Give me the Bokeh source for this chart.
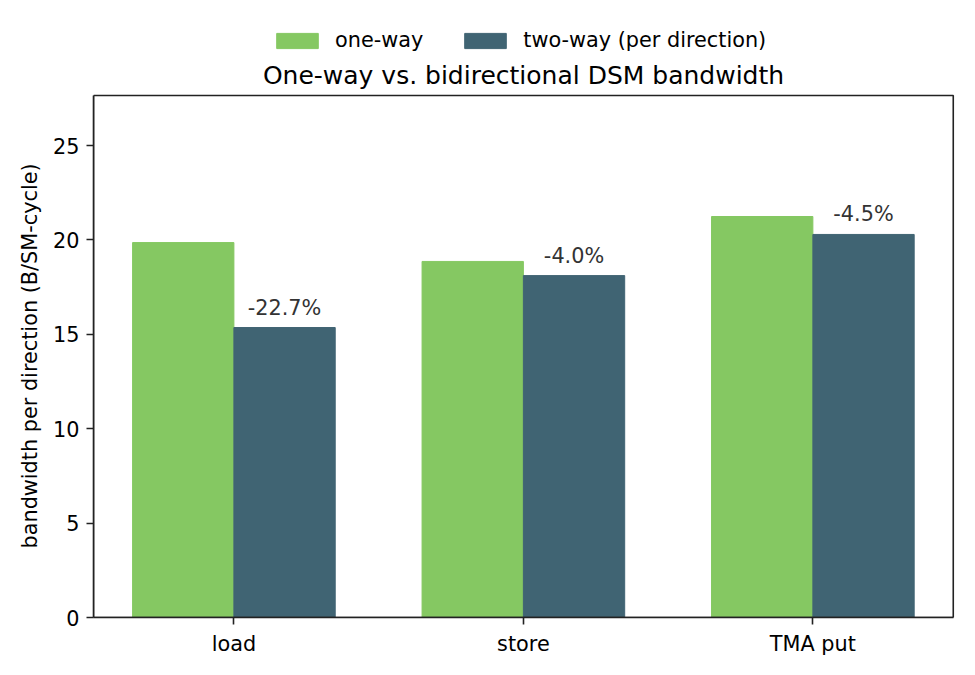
from bokeh.plotting import figure
from bokeh.models import (
    ColumnDataSource,
    Range1d,
    FixedTicker,
    Legend,
    LegendItem,
    Label,
    Title,
)
from bokeh.core.properties import value
from bokeh.embed import file_html
from bokeh.resources import INLINE

# Data
ops = ["load", "store", "TMA put"]
one_way = [19.86, 18.86, 21.24]
two_way = [15.36, 18.11, 20.29]
y_ticks = [0, 5, 10, 15, 20, 25]
y_top = 27.65

green = "#85c862"
slate = "#406473"
ink = "#222222"
font = "DejaVu Sans"
fs = "20.8px"

xs = list(range(len(ops)))
bar_w = 0.35
x_lo, x_hi = -0.485, 2.485
pct = ["%.1f%%" % ((b - a) / a * 100) for a, b in zip(one_way, two_way)]

src = ColumnDataSource(
    dict(
        x1=[x - bar_w / 2 for x in xs],
        x2=[x + bar_w / 2 for x in xs],
        one=one_way,
        two=two_way,
        pct=pct,
    )
)

# the frame runs up to the top of the page so the legend and title
# (which live inside it) are not clipped; the axes box is drawn by hand
frame_h = 617
box_h = 522
p = figure(
    width=975,
    height=675,
    x_range=Range1d(x_lo, 2.51),
    y_range=Range1d(0, y_top * frame_h / box_h),
    toolbar_location=None,
    output_backend="svg",
    min_border_left=93,
    min_border_right=15,
    min_border_bottom=58,
    min_border_top=0,
)
p.outline_line_color = None
p.xgrid.grid_line_color = None
p.ygrid.grid_line_color = None

r1 = p.vbar(x="x1", top="one", width=bar_w, source=src, color=green)
r2 = p.vbar(x="x2", top="two", width=bar_w, source=src, color=slate)

p.quad(
    left=[x_lo], right=[x_hi], bottom=[0], top=[y_top],
    fill_color=None, line_color=ink, line_width=1.6,
)

p.text(
    x="x2",
    y="two",
    text="pct",
    source=src,
    text_align="center",
    text_baseline="bottom",
    y_offset=-8,
    text_font_size=fs,
    text_font=value(font),
    text_color="#333333",
)

# axes
p.xaxis.ticker = FixedTicker(ticks=xs)
p.xaxis.major_label_overrides = {i: name for i, name in enumerate(ops)}
p.xaxis.bounds = (x_lo, x_hi)
p.yaxis.ticker = FixedTicker(ticks=y_ticks)
p.yaxis.bounds = (0, y_top)
for ax in (p.xaxis, p.yaxis):
    ax.axis_line_color = ink
    ax.axis_line_width = 1.6
    ax.major_tick_line_color = ink
    ax.major_tick_line_width = 1.6
    ax.major_tick_out = 7
    ax.major_tick_in = 0
    ax.minor_tick_line_color = None
    ax.major_label_text_font = font
    ax.major_label_text_font_size = fs
    ax.major_label_text_color = "#000000"
    ax.major_label_standoff = 7

# y label as a side title so it can be centred on the box, not the frame
p.add_layout(
    Title(
        text="bandwidth per direction (B/SM-cycle)",
        text_font=font,
        text_font_size=fs,
        text_font_style="normal",
        text_color="#000000",
        align="left",
        offset=69,
        standoff=18,
    ),
    "left",
)

# title
p.add_layout(
    Label(
        x=430, y=frame_h - 75, x_units="screen", y_units="screen",
        text="One-way vs. bidirectional DSM bandwidth",
        text_font=font, text_font_size="25px", text_color="#000000",
        text_align="center", text_baseline="middle",
    )
)

# legend above the box
legend = Legend(
    items=[
        LegendItem(label="one-way", renderers=[r1]),
        LegendItem(label="two-way (per direction)", renderers=[r2]),
    ],
    orientation="horizontal",
    location=(178, 565),
    glyph_width=52,
    glyph_height=19,
    label_standoff=12,
    spacing=36,
    label_text_font=font,
    label_text_font_size=fs,
    label_text_color="#000000",
    border_line_color=None,
    background_fill_alpha=0,
    padding=4,
    margin=0,
)
p.add_layout(legend, "center")

open("out.html", "w").write(file_html(p, INLINE))
